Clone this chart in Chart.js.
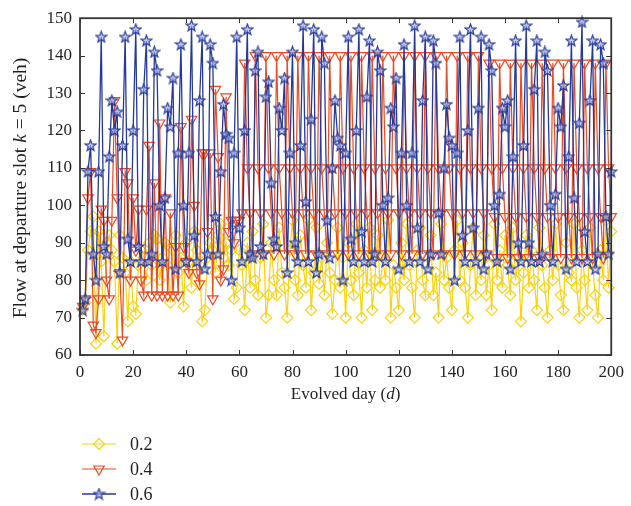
<!DOCTYPE html>
<html>
<head>
<meta charset="utf-8">
<script src="https://cdn.jsdelivr.net/npm/chart.js@4/dist/chart.umd.min.js"></script>
<style>
  html, body { margin: 0; padding: 0; background: #fff; }
  #wrap { width: 631px; height: 506px; }
</style>
</head>
<body>
<div id="wrap"><canvas id="flowChart"></canvas></div>
<script>
// legend names (parameter value of each run)
const seriesNames = ['0.2', '0.4', '0.6'];

// flow at departure slot k = 5, days 1..200
const flow02 = [
  72, 74, 88, 93, 97, 63, 93, 85, 65, 90, 92, 88, 85, 63, 92, 86, 82, 69, 85, 73,
  71, 84, 88, 86, 80, 90, 84, 92, 91, 80, 86, 90, 84, 74, 88, 92, 82, 86, 73, 90,
  85, 78, 93, 88, 84, 69, 72, 86, 90, 88, 82, 92, 95, 86, 90, 84, 88, 75, 78, 88,
  84, 72, 90, 78, 93, 80, 76, 86, 95, 70, 76, 90, 80, 76, 94, 82, 78, 70, 88, 96,
  80, 76, 92, 84, 78, 96, 72, 82, 94, 79, 86, 76, 90, 82, 71, 80, 94, 78, 86, 70,
  90, 80, 76, 95, 82, 70, 88, 78, 94, 72, 80, 92, 78, 86, 80, 96, 70, 84, 78, 72,
  90, 80, 95, 84, 78, 70, 88, 94, 80, 76, 86, 92, 76, 82, 70, 95, 80, 86, 78, 72,
  88, 96, 80, 90, 78, 70, 84, 94, 76, 86, 80, 92, 76, 84, 72, 95, 80, 88, 78, 92,
  84, 76, 94, 80, 86, 69, 82, 92, 78, 88, 80, 72, 94, 84, 78, 70, 88, 80, 95, 84,
  76, 72, 90, 82, 80, 95, 78, 70, 88, 80, 72, 94, 84, 76, 70, 88, 80, 96, 78, 93
];
const flow04 = [
  73, 75, 102, 109, 68, 66, 75, 99, 96, 80, 75, 96, 128, 102, 82, 64, 109, 106, 80, 102,
  88, 99, 80, 76, 99, 116, 76, 106, 76, 122, 76, 102, 76, 98, 76, 89, 76, 121, 89, 85,
  82, 123, 100, 82, 79, 114, 114, 93, 114, 75, 131, 113, 80, 83, 129, 93, 96, 90, 96, 96,
  98, 138, 110, 98, 87, 140, 110, 98, 87, 140, 110, 98, 87, 140, 110, 98, 87, 140, 110, 98,
  87, 140, 110, 98, 87, 140, 110, 98, 87, 140, 110, 98, 87, 140, 110, 98, 87, 140, 110, 98,
  87, 140, 110, 98, 87, 140, 110, 98, 87, 140, 110, 98, 87, 140, 110, 98, 87, 140, 110, 98,
  87, 140, 110, 98, 87, 140, 110, 98, 87, 140, 110, 98, 87, 140, 110, 98, 87, 140, 110, 98,
  87, 140, 110, 98, 87, 140, 110, 98, 87, 140, 110, 98, 87, 138, 110, 97, 86, 138, 110, 97,
  86, 138, 110, 97, 86, 138, 110, 97, 86, 138, 110, 97, 86, 138, 110, 97, 86, 138, 110, 97,
  86, 138, 110, 97, 86, 138, 110, 97, 86, 138, 110, 97, 86, 138, 110, 97, 86, 138, 110, 97
];
const flow06 = [
  72, 75, 109, 116, 87, 80, 109, 145, 89, 87, 113, 128, 120, 125, 82, 116, 145, 91, 85, 120,
  147, 89, 85, 131, 144, 85, 87, 141, 136, 100, 85, 102, 126, 121, 134, 83, 114, 143, 100, 85,
  114, 148, 92, 85, 128, 145, 83, 87, 143, 138, 97, 87, 109, 127, 119, 118, 80, 114, 145, 94,
  85, 120, 147, 87, 86, 136, 141, 89, 87, 129, 133, 106, 91, 89, 126, 120, 134, 82, 114, 141,
  90, 85, 116, 148, 101, 85, 123, 147, 82, 87, 145, 138, 96, 86, 110, 128, 118, 116, 80, 114,
  145, 91, 85, 120, 147, 93, 85, 129, 144, 85, 87, 141, 136, 100, 85, 102, 126, 121, 134, 83,
  114, 143, 100, 85, 114, 148, 94, 85, 128, 145, 83, 87, 144, 138, 98, 87, 110, 127, 118, 116,
  80, 114, 145, 92, 85, 120, 147, 94, 85, 126, 145, 83, 87, 143, 136, 100, 85, 103, 126, 121,
  128, 83, 113, 144, 90, 85, 116, 148, 90, 85, 131, 144, 85, 87, 141, 136, 100, 85, 103, 126,
  121, 132, 83, 113, 144, 102, 85, 122, 149, 93, 85, 128, 144, 83, 87, 143, 138, 97, 87, 109
];

const xTicks = [0, 20, 40, 60, 80, 100, 120, 140, 160, 180, 200];
const yTicks = [60, 70, 80, 90, 100, 110, 120, 130, 140, 150];

const serif = '"Liberation Serif", "DejaVu Serif", serif';
const inkColor = '#231f20';

// five-point star marker for the 0.6 run
function starMarker(color) {
  const c = document.createElement('canvas');
  c.width = 13; c.height = 13;
  const g = c.getContext('2d');
  g.beginPath();
  for (let i = 0; i < 10; i++) {
    const r = i % 2 === 0 ? 5.8 : 2.4;
    const a = -Math.PI / 2 + i * Math.PI / 5;
    g.lineTo(6.5 + r * Math.cos(a), 6.9 + r * Math.sin(a));
  }
  g.closePath();
  g.fillStyle = 'rgba(170,185,230,0.6)';
  g.fill();
  g.lineWidth = 1.2;
  g.strokeStyle = color;
  g.stroke();
  return c;
}

const toPoints = arr => arr.map((v, i) => ({ x: i + 1, y: v }));

const colors = ['#fbd20f', '#ec4a22', '#26399c'];

const datasets = [
  {
    label: seriesNames[0], data: toPoints(flow02),
    borderColor: colors[0], backgroundColor: 'rgba(0,0,0,0)',
    borderWidth: 1.2, pointStyle: 'rectRot', pointRadius: 5.5,
    pointBorderWidth: 1.2, order: 3
  },
  {
    label: seriesNames[1], data: toPoints(flow04),
    borderColor: colors[1], backgroundColor: 'rgba(0,0,0,0)',
    borderWidth: 1.2, pointStyle: 'triangle', pointRotation: 180, pointRadius: 6,
    pointBorderWidth: 1.2, order: 2
  },
  {
    label: seriesNames[2], data: toPoints(flow06),
    borderColor: colors[2], backgroundColor: colors[2],
    borderWidth: 1.3, pointStyle: starMarker(colors[2]),
    order: 1
  }
];

// box frame with inward ticks on all four sides
const framePlugin = {
  id: 'frame',
  afterDraw(chart) {
    const { ctx, chartArea: a, scales } = chart;
    ctx.save();
    ctx.strokeStyle = '#333';
    ctx.lineWidth = 1.8;
    ctx.strokeRect(a.left, a.top, a.right - a.left, a.bottom - a.top);
    ctx.lineWidth = 1;
    ctx.beginPath();
    xTicks.forEach(v => {
      const px = Math.round(scales.x.getPixelForValue(v)) + 0.5;
      ctx.moveTo(px, a.bottom); ctx.lineTo(px, a.bottom - 5);
      ctx.moveTo(px, a.top); ctx.lineTo(px, a.top + 5);
    });
    yTicks.forEach(v => {
      const py = Math.round(scales.y.getPixelForValue(v)) + 0.5;
      ctx.moveTo(a.left, py); ctx.lineTo(a.left + 5, py);
      ctx.moveTo(a.right, py); ctx.lineTo(a.right - 5, py);
    });
    ctx.stroke();
    ctx.restore();
  }
};

// axis titles, with italic symbols
function drawRuns(ctx, runs, cx, cy) {
  let total = 0;
  runs.forEach(r => { ctx.font = r[1]; total += ctx.measureText(r[0]).width; });
  let x = cx - total / 2;
  runs.forEach(r => {
    ctx.font = r[1];
    ctx.fillText(r[0], x, cy);
    x += ctx.measureText(r[0]).width;
  });
}

const titlePlugin = {
  id: 'titles',
  afterDraw(chart) {
    const { ctx, chartArea: a } = chart;
    const up = '17px ' + serif, it = 'italic 17px ' + serif;
    const upY = '19.5px ' + serif, itY = 'italic 19.5px ' + serif;
    ctx.save();
    ctx.fillStyle = inkColor;
    ctx.textBaseline = 'middle';
    ctx.textAlign = 'left';
    drawRuns(ctx, [['Evolved day (', up], ['d', it], [')', up]], (a.left + a.right) / 2, 395);
    ctx.translate(21, 188);
    ctx.rotate(-Math.PI / 2);
    drawRuns(ctx, [['Flow at departure slot ', upY], ['k', itY], [' = 5 (veh)', upY]], 0, 0);
    ctx.restore();
  }
};

// legend stacked under the axes
const legendPlugin = {
  id: 'stackLegend',
  afterDraw(chart) {
    const ctx = chart.ctx;
    ctx.save();
    chart.data.datasets.forEach((ds, i) => {
      const y = 444 + i * 25;
      ctx.strokeStyle = ds.borderColor;
      ctx.lineWidth = ds.borderWidth;
      ctx.beginPath();
      ctx.moveTo(82, y); ctx.lineTo(116, y);
      ctx.stroke();
      ctx.fillStyle = ds.backgroundColor;
      ctx.lineWidth = ds.pointBorderWidth || 1.2;
      Chart.helpers.drawPoint(ctx, {
        pointStyle: ds.pointStyle, rotation: ds.pointRotation || 0,
        radius: ds.pointRadius || 6, borderWidth: ds.pointBorderWidth || 1.2
      }, 99, y);
      ctx.fillStyle = inkColor;
      ctx.font = '18px ' + serif;
      ctx.textBaseline = 'middle';
      ctx.fillText(ds.label, 130, y + 1);
    });
    ctx.restore();
  }
};

new Chart(document.getElementById('flowChart'), {
  type: 'line',
  data: { datasets },
  options: {
    responsive: true,
    maintainAspectRatio: false,
    animation: false,
    devicePixelRatio: 1,
    layout: { padding: { left: 0, right: 17, top: 13, bottom: 0 } },
    elements: { line: { tension: 0 } },
    datasets: { line: { clip: false } },
    plugins: { legend: { display: false }, tooltip: { enabled: false } },
    scales: {
      x: {
        type: 'linear', min: 0, max: 200,
        afterBuildTicks: s => { s.ticks = xTicks.map(v => ({ value: v })); },
        afterFit: s => { s.height = 151; },
        grid: { display: false, drawTicks: false },
        border: { display: false },
        ticks: { padding: 7, color: inkColor, font: { family: serif, size: 17 }, maxRotation: 0 }
      },
      y: {
        min: 60, max: 150,
        afterBuildTicks: s => { s.ticks = yTicks.map(v => ({ value: v })); },
        afterFit: s => { s.width = 80; },
        grid: { display: false, drawTicks: false },
        border: { display: false },
        ticks: { padding: 8, color: inkColor, font: { family: serif, size: 17 } }
      }
    }
  },
  plugins: [framePlugin, titlePlugin, legendPlugin]
});
</script>
</body>
</html>
